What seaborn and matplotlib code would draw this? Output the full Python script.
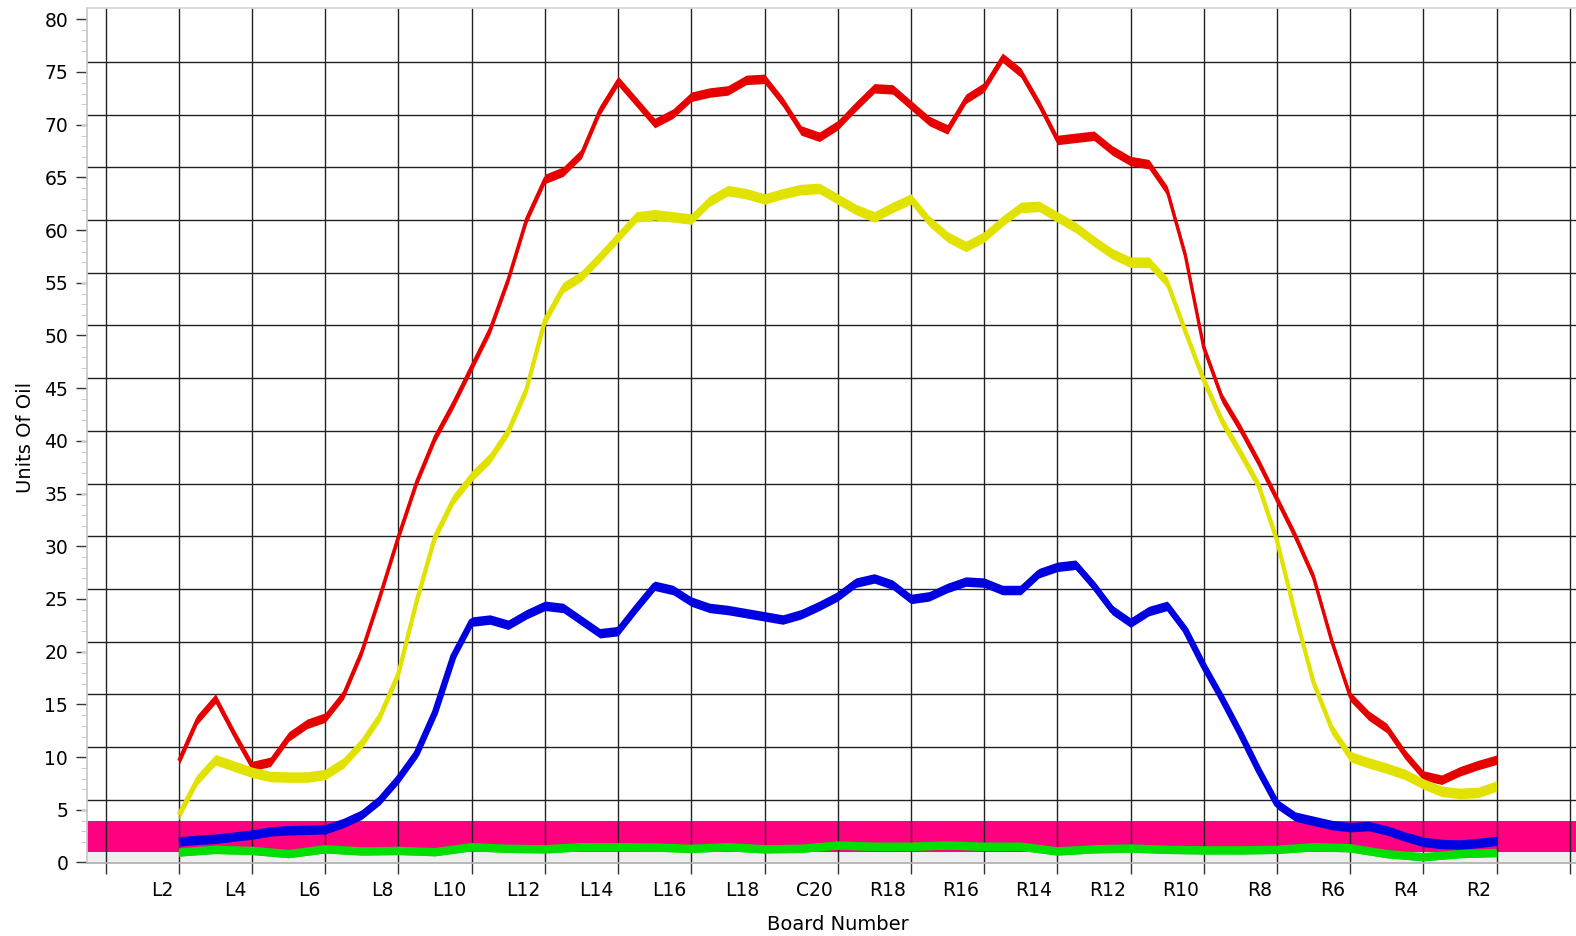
import numpy as np
import matplotlib
matplotlib.use("Agg")
import matplotlib.pyplot as plt
import matplotlib.transforms as mtransforms
from matplotlib.ticker import MultipleLocator
import seaborn as sns

# ===== DADOS (posição = índice da placa, L2 = 0 ... R2 = 36) =====
board_labels = ["L2", "L4", "L6", "L8", "L10", "L12", "L14", "L16", "L18", "C20",
                "R18", "R16", "R14", "R12", "R10", "R8", "R6", "R4", "R2"]

pos_half = np.arange(0, 36.5, 0.5)   # leitura a cada meia placa
pos_board = np.arange(0, 37, 1)      # leitura a cada placa

red_oil = [8.7, 12.6, 14.6, 11.3, 8.2, 8.6, 11.0, 12.2, 12.8, 15.0,
           19.1, 24.4, 30.0, 35.2, 39.4, 42.6, 46.1, 49.6, 54.4, 60.1,
           63.9, 64.6, 66.3, 70.4, 73.2, 71.2, 69.2, 70.1, 71.7, 72.1,
           72.3, 73.3, 73.4, 71.2, 68.5, 67.9, 69.0, 70.8, 72.5, 72.4,
           70.9, 69.4, 68.6, 71.5, 72.6, 75.4, 74.0, 71.0, 67.6, 67.8,
           68.0, 66.6, 65.6, 65.3, 62.8, 56.6, 47.9, 43.1, 40.2, 37.0,
           33.5, 30.0, 26.1, 20.0, 14.8, 13.0, 11.8, 9.3, 7.3, 6.9,
           7.7, 8.3, 8.8]

yellow_oil = [3.6, 6.9, 8.8, 8.2, 7.6, 7.2, 7.15, 7.15, 7.4, 8.5,
              10.4, 13.0, 17.0, 23.9, 30.0, 33.5, 35.7, 37.4, 40.0, 44.0,
              50.5, 53.6, 54.7, 56.5, 58.4, 60.3, 60.5, 60.3, 60.1, 61.8,
              62.8, 62.5, 62.0, 62.5, 62.9, 63.0, 62.0, 61.0, 60.3, 61.2,
              62.0, 59.9, 58.4, 57.5, 58.4, 59.9, 61.2, 61.3, 60.3, 59.3,
              58.0, 56.8, 56.0, 56.0, 54.1, 49.4, 44.8, 40.9, 37.9, 34.8,
              29.6, 22.6, 16.1, 11.7, 9.1, 8.5, 8.0, 7.4, 6.5, 5.8,
              5.6, 5.7, 6.3]

blue_oil = [1.05, 1.2, 1.3, 1.5, 1.7, 2.0, 2.1, 2.15, 2.2, 2.8,
            3.6, 5.0, 7.0, 9.4, 13.3, 18.6, 21.9, 22.1, 21.6, 22.6,
            23.4, 23.2, 22.0, 20.8, 21.0, 23.2, 25.3, 24.9, 23.8, 23.2,
            23.0, 22.7, 22.4, 22.1, 22.6, 23.4, 24.3, 25.6, 26.0, 25.4,
            24.05, 24.3, 25.1, 25.7, 25.6, 24.9, 24.9, 26.5, 27.1, 27.3,
            25.3, 23.0, 21.8, 22.9, 23.4, 21.1, 17.7, 14.6, 11.3, 7.8,
            4.6, 3.4, 3.0, 2.6, 2.4, 2.5, 2.1, 1.5, 1.0, 0.8,
            0.75, 0.9, 1.1]

green_oil = [0.0, 0.25, 0.15, -0.15, 0.3, 0.1, 0.15, 0.03, 0.5, 0.35,
             0.3, 0.5, 0.5, 0.47, 0.35, 0.5, 0.3, 0.35, 0.66, 0.55,
             0.55, 0.66, 0.55, 0.55, 0.1, 0.3, 0.38, 0.25, 0.2, 0.2,
             0.25, 0.5, 0.4, -0.15, -0.45, -0.15, -0.05]

limit_band = (0, 3)

# ===== ESTILO =====
sns.set_theme(style="white")
plt.rcParams['font.family'] = ['DejaVu Sans']
plt.rcParams['text.color'] = 'black'
plt.rcParams['axes.labelcolor'] = 'black'
plt.rcParams['xtick.labelcolor'] = 'black'
plt.rcParams['ytick.labelcolor'] = 'black'

fig = plt.figure(figsize=(15.76, 9.36), dpi=100)
ax = fig.add_axes([87 / 1576, 73 / 936, 1489 / 1576, 855 / 936])

ax.set_xlim(-2.51, 38.17)
ax.set_ylim(-1.0, 80.12)

# faixa cinza abaixo do zero e faixa rosa do limite
ax.axhspan(-1.0, 0, color="#eeeeee", lw=0, zorder=0.8)
ax.axhspan(limit_band[0], limit_band[1], color="#ff0080", lw=0, zorder=1)

# curvas: faixa vertical + linha central
series = [
    (pos_half, red_oil, "#e60000", 0.45, 2.4),
    (pos_half, yellow_oil, "#e2e200", 0.5, 3.0),
    (pos_half, blue_oil, "#0000e0", 0.45, 4.6),
    (pos_board, green_oil, "#00e000", 0.35, 6.0),
]
for i, (x, y, c, half, lw) in enumerate(series):
    y = np.asarray(y)
    ax.fill_between(x, y - half, y + half, color=c, lw=0, zorder=2 + i * 0.1)
    sns.lineplot(x=x, y=y, color=c, linewidth=lw, ax=ax,
                 zorder=2.05 + i * 0.1, solid_capstyle="butt",
                 solid_joinstyle="round")

# ===== EIXOS E GRADE =====
xt = np.arange(-2, 39, 2)
ax.set_xticks(xt, [""] + board_labels + [""])
ax.set_yticks(np.arange(0, 81, 5))
ax.yaxis.set_minor_locator(MultipleLocator(1))
ax.set_axisbelow("line")
ax.grid(True, which="major", color="#222222", linewidth=1.0)

ax.tick_params(axis="x", which="major", direction="out", length=8, width=1,
               color="#333333", labelsize=13.5, pad=5, bottom=True)
ax.tick_params(axis="y", which="major", direction="out", length=8, width=1,
               color="#333333", labelsize=13.5, pad=5.5, left=True)
ax.tick_params(axis="y", which="minor", direction="out", length=4, width=0.8,
               color="#cccccc", left=True)

yticks = ax.yaxis.get_major_ticks()
yticks[0].gridline.set_visible(False)
yticks[-1].gridline.set_visible(False)

# rótulos deslocados em relação à grade
shift_y = mtransforms.ScaledTranslation(0, -0.10, fig.dpi_scale_trans)
for t in yticks:
    t.label1.set_transform(t.label1.get_transform() + shift_y)
    t.tick1line.set_transform(t.tick1line.get_transform() + shift_y)

shift_x = mtransforms.ScaledTranslation(-0.05, 0, fig.dpi_scale_trans)
for t in ax.xaxis.get_major_ticks():
    t.label1.set_transform(t.label1.get_transform() + shift_x)
    t.label1.set_horizontalalignment("right")

ax.spines["right"].set_visible(False)
ax.spines["left"].set_color("#c8c8c8")
ax.spines["left"].set_linestyle((0, (2, 1)))
ax.spines["top"].set_color("#d8d8d8")
ax.spines["top"].set_linestyle((0, (1, 1)))
ax.spines["bottom"].set_color("#b0b0b0")

ax.set_xlabel("Board Number", fontsize=14, color="black")
ax.set_ylabel("Units Of Oil", fontsize=14, color="black")
ax.xaxis.set_label_coords(0.504, -0.061)
ax.yaxis.set_label_coords(-0.035, 0.498)

fig.savefig("out.png", dpi=100)
plt.close(fig)
